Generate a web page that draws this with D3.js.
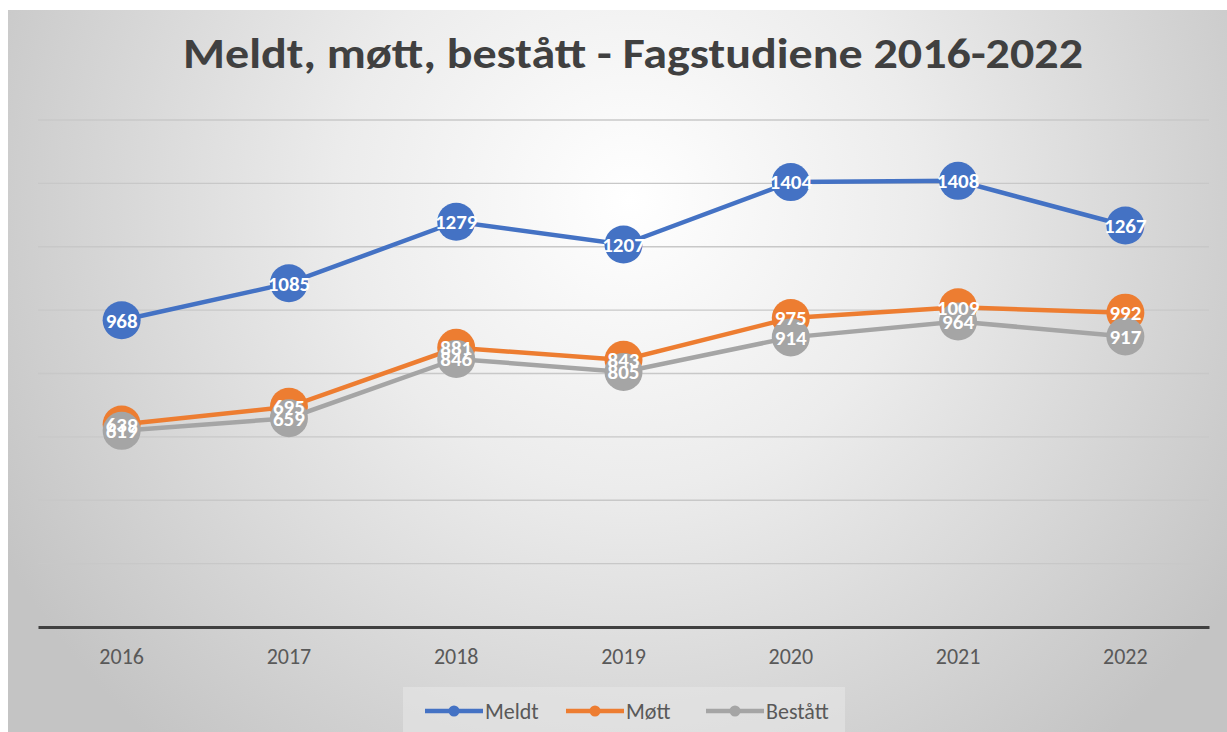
<!DOCTYPE html>
<html>
<head>
<meta charset="utf-8">
<script src="https://cdn.jsdelivr.net/npm/d3@7"></script>
<style>
  body { margin: 0; background: #fff; }
  text { font-family: Carlito, "Liberation Sans Narrow", "Open Sans", sans-serif; }
</style>
</head>
<body>
<div id="chart"></div>
<script>
// data
const years = ["2016", "2017", "2018", "2019", "2020", "2021", "2022"];
const meldt = [968, 1085, 1279, 1207, 1404, 1408, 1267];
const mott = [639, 695, 881, 843, 975, 1009, 992];
const bestatt = [619, 659, 846, 805, 914, 964, 917];
const seriesNames = ["Meldt", "Møtt", "Bestått"];
const yTicks = [0, 200, 400, 600, 800, 1000, 1200, 1400, 1600];

const colors = ["#4472C4", "#ED7D31", "#A5A5A5"];
const allSeries = [meldt, mott, bestatt];

const W = 1227, H = 732;
const margin = {top: 120, right: 18, bottom: 105, left: 38};

const svg = d3.select("#chart").append("svg")
  .attr("width", W)
  .attr("height", H);

// background gradient like the excel chart area
const defs = svg.append("defs");
const grad = defs.append("radialGradient")
  .attr("id", "bg")
  .attr("gradientUnits", "userSpaceOnUse")
  .attr("cx", 630).attr("cy", 200).attr("r", 720);
grad.append("stop").attr("offset", "0%").attr("stop-color", "#ffffff");
grad.append("stop").attr("offset", "40%").attr("stop-color", "#ececec");
grad.append("stop").attr("offset", "100%").attr("stop-color", "#c4c4c4");

svg.append("rect")
  .attr("x", 8).attr("y", 10)
  .attr("width", W - 8).attr("height", H - 10)
  .attr("fill", "url(#bg)");

const x = d3.scaleBand()
  .domain(years)
  .range([margin.left, W - margin.right]);

const y = d3.scaleLinear()
  .domain([0, 1600])
  .range([H - margin.bottom, margin.top]);

// gridlines
svg.append("g")
  .selectAll("line")
  .data(yTicks.slice(1))
  .join("line")
    .attr("x1", margin.left)
    .attr("x2", W - margin.right)
    .attr("y1", d => y(d))
    .attr("y2", d => y(d))
    .style("stroke", "#c8c8c8")
    .style("stroke-width", 1.3);

// x axis
const xAxis = svg.append("g")
  .attr("transform", `translate(0,${y(0)})`)
  .call(d3.axisBottom(x).tickSize(0).tickPadding(21));
xAxis.select(".domain")
  .style("stroke", "#404040")
  .style("stroke-width", 3);
xAxis.selectAll("text")
  .style("font-size", "22px")
  .style("fill", "#595959");

// title
svg.append("text")
  .attr("x", 633)
  .attr("y", 68)
  .attr("text-anchor", "middle")
  .attr("textLength", 900)
  .attr("lengthAdjust", "spacingAndGlyphs")
  .style("font-size", "42px")
  .style("font-weight", "bold")
  .style("fill", "#404040")
  .text("Meldt, møtt, bestått - Fagstudiene 2016-2022");

const cx = (d, i) => x(years[i]) + x.bandwidth() / 2;
const line = d3.line()
  .x(cx)
  .y(d => y(d));

// lines and markers: blue at the back, gray in front
[0, 1, 2].forEach(s => {
  const vals = allSeries[s];
  const g = svg.append("g");
  g.append("path")
    .attr("d", line(vals))
    .style("fill", "none")
    .style("stroke", colors[s])
    .style("stroke-width", 4.5);
  g.selectAll("circle")
    .data(vals)
    .join("circle")
      .attr("cx", cx)
      .attr("cy", d => y(d))
      .attr("r", 19)
      .style("fill", colors[s]);
});

// data labels on top of all markers
[0, 1, 2].forEach(s => {
  svg.append("g")
    .selectAll("text")
    .data(allSeries[s])
    .join("text")
      .attr("x", cx)
      .attr("y", d => y(d))
      .attr("dy", "0.35em")
      .attr("text-anchor", "middle")
      .style("font-size", "21px")
      .style("font-weight", "bold")
      .style("fill", "#ffffff")
      .text(d => d);
});

// legend
const lg = svg.append("g");
lg.append("rect")
  .attr("x", 403).attr("y", 687)
  .attr("width", 442).attr("height", 45)
  .style("fill", "#e6e6e6")
  .style("opacity", 0.6);
const legendX = [425, 566, 706];
seriesNames.forEach((name, i) => {
  const item = lg.append("g").attr("transform", `translate(${legendX[i]},711)`);
  item.append("line")
    .attr("x1", 0).attr("x2", 58)
    .style("stroke", colors[i])
    .style("stroke-width", 4.5);
  item.append("circle")
    .attr("cx", 29).attr("r", 5.5)
    .style("fill", colors[i]);
  item.append("text")
    .attr("x", 60)
    .attr("dy", "0.35em")
    .style("font-size", "22px")
    .style("fill", "#595959")
    .text(name);
});
</script>
</body>
</html>
